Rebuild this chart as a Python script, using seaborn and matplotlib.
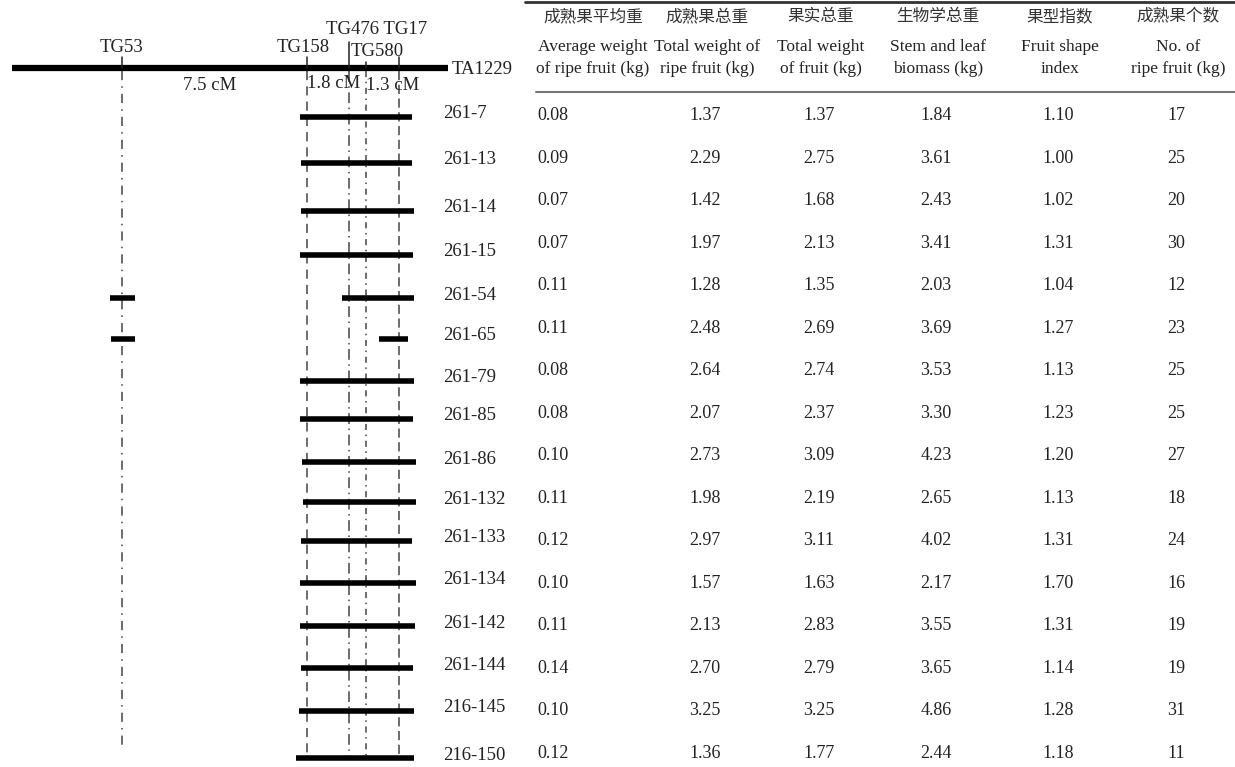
import numpy as np
import pandas as pd
import matplotlib.pyplot as plt
import seaborn as sns

# Lines (recombinants) and their measurements
lines = ['261-7', '261-13', '261-14', '261-15', '261-54', '261-65', '261-79', '261-85',
         '261-86', '261-132', '261-133', '261-134', '261-142', '261-144', '216-145', '216-150']
avg_weight = ['0.08', '0.09', '0.07', '0.07', '0.11', '0.11', '0.08', '0.08',
              '0.10', '0.11', '0.12', '0.10', '0.11', '0.14', '0.10', '0.12']
ripe_total = ['1.37', '2.29', '1.42', '1.97', '1.28', '2.48', '2.64', '2.07',
              '2.73', '1.98', '2.97', '1.57', '2.13', '2.70', '3.25', '1.36']
fruit_total = ['1.37', '2.75', '1.68', '2.13', '1.35', '2.69', '2.74', '2.37',
               '3.09', '2.19', '3.11', '1.63', '2.83', '2.79', '3.25', '1.77']
biomass = ['1.84', '3.61', '2.43', '3.41', '2.03', '3.69', '3.53', '3.30',
           '4.23', '2.65', '4.02', '2.17', '3.55', '3.65', '4.86', '2.44']
shape_index = ['1.10', '1.00', '1.02', '1.31', '1.04', '1.27', '1.13', '1.23',
               '1.20', '1.13', '1.31', '1.70', '1.31', '1.14', '1.28', '1.18']
n_ripe = ['17', '25', '20', '30', '12', '23', '25', '25',
          '27', '18', '24', '16', '19', '19', '31', '11']

headers_cn = ['成熟果平均重', '成熟果总重', '果实总重', '生物学总重', '果型指数', '成熟果个数']
headers_en = ['Average weight\nof ripe fruit (kg)', 'Total weight of\nripe fruit (kg)',
              'Total weight\nof fruit (kg)', 'Stem and leaf\nbiomass (kg)',
              'Fruit shape\nindex', 'No. of\nripe fruit (kg)']

# markers on the map (schematic positions)
markers = ['TG53', 'TG158', 'TG476', 'TG580', 'TG17']
marker_x = [122, 307, 349, 366, 399]

# introgression segments: line, start, end
seg_line = ['261-7', '261-13', '261-14', '261-15', '261-54', '261-54', '261-65', '261-65',
            '261-79', '261-85', '261-86', '261-132', '261-133', '261-134', '261-142',
            '261-144', '216-145', '216-150']
seg_x0 = [300, 301, 301, 300, 110, 342, 111, 379, 300, 300, 302, 303, 301, 300, 300, 301, 299, 296]
seg_x1 = [412, 412, 414, 413, 135, 414, 135, 408, 414, 413, 416, 416, 412, 416, 415, 413, 414, 414]

# layout
W, H = 1235, 767
bar_y = [117, 163, 211, 255, 298, 339, 381, 419, 462, 502, 541, 583, 626, 668, 711, 758]
label_y = [y - 3 for y in bar_y]
row_y = np.linspace(116, 753, len(lines))
col_x = [593, 707, 821, 938, 1060, 1178]
TXT = '#222'

sns.set_theme(style='white')
plt.rcParams['font.family'] = ['Liberation Serif', 'Noto Sans CJK SC']

fig = plt.figure(figsize=(W / 100, H / 100), dpi=100)
ax = fig.add_axes([0, 0, 1, 1])

# chromosome
ax.plot([12, 448], [68, 68], color='black', lw=4.5, solid_capstyle='butt')
ax.text(452, 70, 'TA1229', fontsize=13.5, va='center', ha='left', color=TXT)

# marker ticks and dashed guides
tick_top = [57, 57, 42, 62, 57]
styles = [(0, (6, 4, 1, 4)), (0, (6, 4)), (0, (7, 3, 1, 3)), (0, (4, 3, 1, 3)), (0, (6, 3))]
for mx, tt, ls in zip(marker_x, tick_top, styles):
    ax.plot([mx, mx], [tt, 68], color=TXT, lw=1.1)
    ax.plot([mx, mx], [71, 760 if mx > 200 else 750], color='#444', lw=1.1, linestyle=ls)

ax.text(121, 47, 'TG53', fontsize=13.5, ha='center', va='center', color=TXT)
ax.text(303, 47, 'TG158', fontsize=13.5, ha='center', va='center', color=TXT)
ax.text(377, 30, 'TG476 TG17', fontsize=13.5, ha='center', va='center', color=TXT)
ax.text(377, 52, 'TG580', fontsize=13.5, ha='center', va='center', color=TXT)
ax.text(210, 86, '7.5 cM', fontsize=13.5, ha='center', va='center', color=TXT)
ax.text(334, 83, '1.8 cM', fontsize=13.5, ha='center', va='center', color=TXT)
ax.text(393, 85, '1.3 cM', fontsize=13.5, ha='center', va='center', color=TXT)

# segments drawn with seaborn
ymap = dict(zip(lines, bar_y))
seg = pd.DataFrame({'line': seg_line, 'x0': seg_x0, 'x1': seg_x1})
seg['id'] = range(len(seg))
long = pd.concat([
    pd.DataFrame({'x': seg['x0'], 'y': seg['line'].map(ymap), 'id': seg['id']}),
    pd.DataFrame({'x': seg['x1'], 'y': seg['line'].map(ymap), 'id': seg['id']}),
])
sns.lineplot(data=long, x='x', y='y', units='id', estimator=None, color='black',
             lw=4, ax=ax, legend=False, solid_capstyle='butt')

for name, y in zip(lines, label_y):
    ax.text(443, y, name, fontsize=13.5, ha='left', va='center', color=TXT)

# table
ax.plot([525, W], [1.5, 1.5], color='#333', lw=2)
ax.plot([536, W], [92, 92], color='#777', lw=1.5)
for cx, cn, en in zip(col_x, headers_cn, headers_en):
    ax.text(cx, 17, cn, fontsize=12, ha='center', va='center', color='#333')
    ax.text(cx, 58, en, fontsize=12.5, ha='center', va='center', color=TXT, linespacing=1.55)

cols = [avg_weight, ripe_total, fruit_total, biomass, shape_index, n_ripe]
for j, vals in enumerate(cols):
    for y, v in zip(row_y, vals):
        if j == 0:
            ax.text(537, y, v, fontsize=13, ha='left', va='center', color=TXT)
        else:
            ax.text(col_x[j] - 2, y, v, fontsize=13, ha='center', va='center', color=TXT)

ax.set_xlim(0, W)
ax.set_ylim(H, 0)
ax.axis('off')

fig.savefig('out.png', dpi=100)
